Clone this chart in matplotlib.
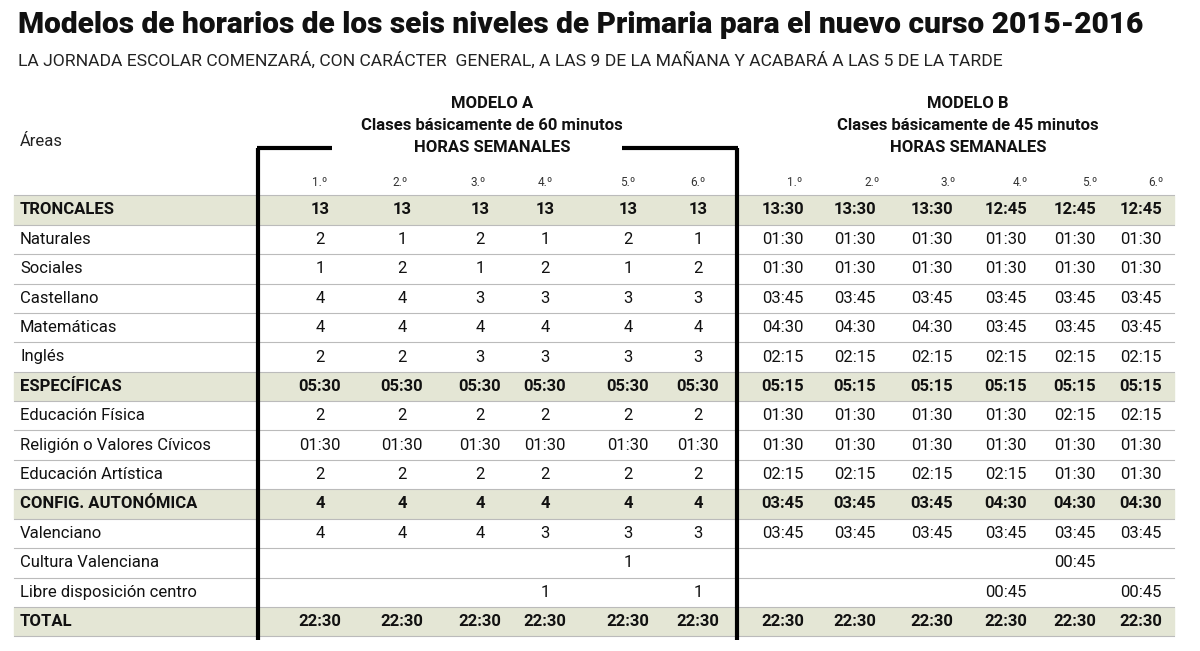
import matplotlib
matplotlib.use("Agg")
import matplotlib.pyplot as plt
from matplotlib.patches import Rectangle

plt.rcParams['font.family'] = ['Roboto', 'DejaVu Sans']

title = "Modelos de horarios de los seis niveles de Primaria para el nuevo curso 2015-2016"
subtitle = "LA JORNADA ESCOLAR COMENZARÁ, CON CARÁCTER  GENERAL, A LAS 9 DE LA MAÑANA Y ACABARÁ A LAS 5 DE LA TARDE"
courses = ["1.º", "2.º", "3.º", "4.º", "5.º", "6.º"]
areas = ["TRONCALES", "Naturales", "Sociales", "Castellano", "Matemáticas", "Inglés",
         "ESPECÍFICAS", "Educación Física", "Religión o Valores Cívicos", "Educación Artística",
         "CONFIG. AUTONÓMICA", "Valenciano", "Cultura Valenciana", "Libre disposición centro", "TOTAL"]
bold_rows = {"TRONCALES", "ESPECÍFICAS", "CONFIG. AUTONÓMICA", "TOTAL"}
modelo_a = [
    ["13"]*6,
    ["2", "1", "2", "1", "2", "1"],
    ["1", "2", "1", "2", "1", "2"],
    ["4", "4", "3", "3", "3", "3"],
    ["4", "4", "4", "4", "4", "4"],
    ["2", "2", "3", "3", "3", "3"],
    ["05:30"]*6,
    ["2"]*6,
    ["01:30"]*6,
    ["2"]*6,
    ["4"]*6,
    ["4", "4", "4", "3", "3", "3"],
    ["", "", "", "", "1", ""],
    ["", "", "", "1", "", "1"],
    ["22:30"]*6,
]
modelo_b = [
    ["13:30", "13:30", "13:30", "12:45", "12:45", "12:45"],
    ["01:30"]*6,
    ["01:30"]*6,
    ["03:45"]*6,
    ["04:30", "04:30", "04:30", "03:45", "03:45", "03:45"],
    ["02:15"]*6,
    ["05:15"]*6,
    ["01:30", "01:30", "01:30", "01:30", "02:15", "02:15"],
    ["01:30"]*6,
    ["02:15", "02:15", "02:15", "02:15", "01:30", "01:30"],
    ["03:45", "03:45", "03:45", "04:30", "04:30", "04:30"],
    ["03:45"]*6,
    ["", "", "", "", "00:45", ""],
    ["", "", "", "00:45", "", "00:45"],
    ["22:30"]*6,
]

fig = plt.figure(figsize=(12, 6.51), dpi=100)
ax = fig.add_axes([0, 0, 1, 1])
ax.set_xlim(0, 1200); ax.set_ylim(651, 0); ax.axis('off')

ax.text(18, 25, title, fontsize=21.5, fontweight='heavy', va='center', ha='left', color='#111')
ax.text(18, 60, subtitle, fontsize=12.6, va='center', ha='left', color='#222')

for cx, lines in [(492, ["MODELO A", "Clases básicamente de 60 minutos", "HORAS SEMANALES"]),
                  (968, ["MODELO B", "Clases básicamente de 45 minutos", "HORAS SEMANALES"])]:
    for i, l in enumerate(lines):
        ax.text(cx, 104 + i*22, l, fontsize=12, fontweight='bold', ha='center', va='center', color='#111')
ax.text(20, 141, "Áreas", fontsize=12, va='center', color='#222')

xa = [320, 402, 480, 545, 628, 698]
xb = [783, 855, 932, 1006, 1075, 1141]
xa_h = [320, 400, 478, 545, 628, 698]
xb_h = [795, 872, 948, 1020, 1090, 1156]
for i, c in enumerate(courses):
    ax.text(xa_h[i], 182, c, fontsize=8.5, ha='center', va='center', color='#333')
    ax.text(xb_h[i], 182, c, fontsize=8.5, ha='center', va='center', color='#333')

y0, dy = 210, 29.4
for r, area in enumerate(areas):
    y = y0 + r*dy
    b = area in bold_rows
    if b:
        ax.add_patch(Rectangle((14, y-dy/2+1), 1160, dy-2, color='#e4e6d5', zorder=0))
    ax.plot([14, 1174], [y+dy/2, y+dy/2], color='#bbbbbb', lw=0.8, zorder=1)
    ax.text(20, y, area, fontsize=12, fontweight='bold' if b else 'normal', va='center', color='#111')
    for i in range(6):
        ax.text(xa[i], y, modelo_a[r][i], fontsize=12, fontweight='bold' if b else 'normal',
                ha='center', va='center', color='#111')
        ax.text(xb[i], y, modelo_b[r][i], fontsize=12, fontweight='bold' if b else 'normal',
                ha='center', va='center', color='#111')
ax.plot([14, 1174], [y0-dy/2, y0-dy/2], color='#bbbbbb', lw=0.8)

kw = dict(color='black', lw=3, solid_capstyle='butt')
ax.plot([258, 258], [148, 640], **kw)
ax.plot([737, 737], [148, 640], **kw)
ax.plot([257, 332], [148, 148], **kw)
ax.plot([622, 738], [148, 148], **kw)

fig.savefig("out.png", dpi=100)
